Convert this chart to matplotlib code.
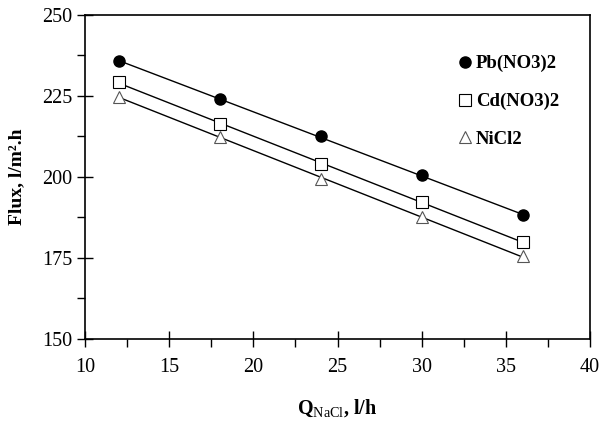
import numpy as np
import matplotlib
matplotlib.use("Agg")
import matplotlib.pyplot as plt
from matplotlib.ticker import MultipleLocator

plt.rcParams['font.family'] = ['Liberation Serif', 'DejaVu Serif']
plt.rcParams['mathtext.fontset'] = 'custom'
plt.rcParams['mathtext.rm'] = 'Liberation Serif'
plt.rcParams['mathtext.bf'] = 'Liberation Serif:bold'

q = [12, 18, 24, 30, 36]
pb = [235.8, 224.0, 212.5, 200.5, 188.2]
cd = [229.3, 216.5, 204.0, 192.3, 180.0]
ni = [224.8, 212.3, 199.5, 187.6, 175.5]
names = ['Pb(NO3)2', 'Cd(NO3)2', 'NiCl2']

fig = plt.figure(figsize=(6, 4.25), dpi=100)
ax = fig.add_axes([0.1417, 0.2024, 0.8416, 0.7623])

styles = [
    dict(marker='o', mfc='black', mec='black', ms=8),
    dict(marker='s', mfc='white', mec='black', ms=8, mew=0.8),
    dict(marker='^', mfc='white', mec='#555555', ms=8, mew=0.8),
]
handles = []
for ys, st, nm in zip([pb, cd, ni], styles, names):
    x = np.array(q, dtype=float)
    k, b = np.polyfit(x, ys, 1)
    ax.plot(x, k * x + b, color='black', lw=1.0, zorder=2)
    h, = ax.plot(q, ys, linestyle='none', zorder=3, label=nm, **st)
    handles.append(h)

ax.set_xlim(10, 40)
ax.set_ylim(150, 250)
ax.xaxis.set_major_locator(MultipleLocator(5))
ax.xaxis.set_minor_locator(MultipleLocator(2.5))
ax.yaxis.set_major_locator(MultipleLocator(25))
ax.yaxis.set_minor_locator(MultipleLocator(12.5))
ax.tick_params(which='major', direction='inout', length=12, width=1.0, labelsize=14.5)
ax.tick_params(which='minor', direction='out', length=6, width=1.0)
ax.tick_params(axis='x', which='major', pad=8)
ax.tick_params(axis='y', which='major', pad=3)
for s in ax.spines.values():
    s.set_linewidth(1.2)

ax.set_ylabel('Flux, l/m².h', fontsize=14, fontweight='bold', labelpad=12)
ax.set_xlabel(r'Q$_{\mathrm{NaCl}}$, l/h', fontsize=14.5, fontweight='bold', labelpad=14)

leg = ax.legend(handles=handles, loc='upper left', bbox_to_anchor=(0.72, 0.90),
                frameon=False, handletextpad=0.05, handlelength=1.0,
                labelspacing=1.1, borderaxespad=0, prop={'weight': 'bold', 'size': 13.5})

fig.savefig('out.png', dpi=100)
